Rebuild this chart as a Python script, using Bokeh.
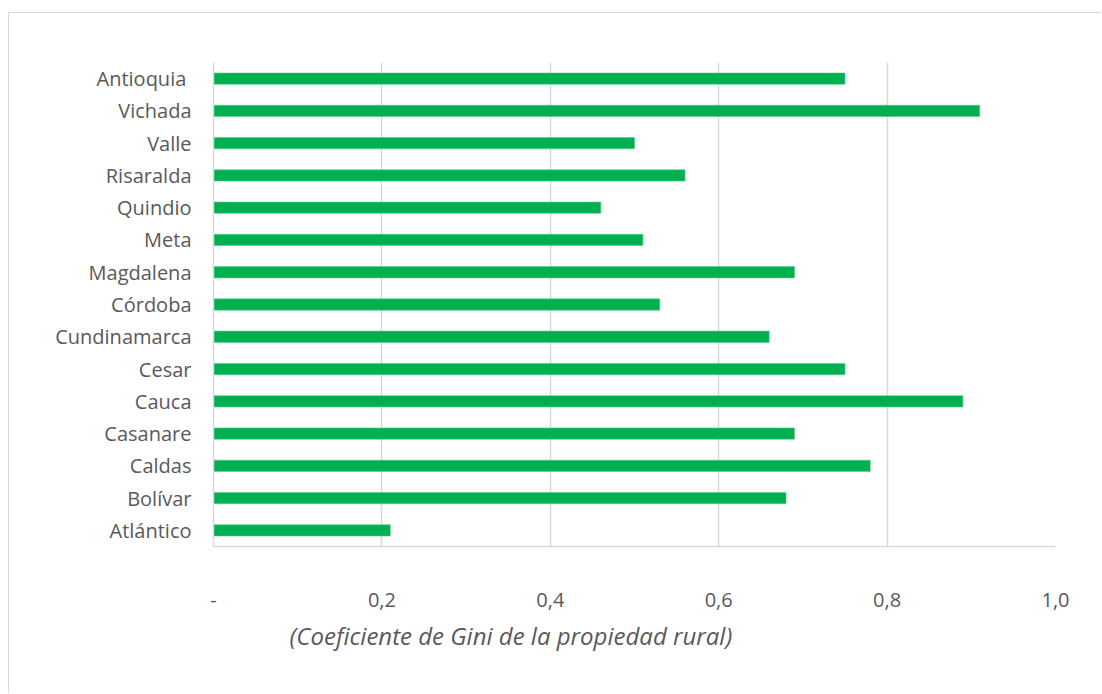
from bokeh.plotting import figure
from bokeh.models import FactorRange, Range1d, FixedTicker, Title
from bokeh.embed import file_html
from bokeh.resources import INLINE

# Data (bottom to top as displayed)
departments = ["Atlántico", "Bolívar", "Caldas", "Casanare", "Cauca", "Cesar",
               "Cundinamarca", "Córdoba", "Magdalena", "Meta", "Quindio",
               "Risaralda", "Valle", "Vichada", "Antioquia "]
gini = [0.21, 0.68, 0.78, 0.69, 0.89, 0.75, 0.66, 0.53, 0.69, 0.51, 0.46,
        0.56, 0.50, 0.91, 0.75]
tick_values = [0, 0.2, 0.4, 0.6, 0.8, 1.0]
tick_labels = ["-", "0,2", "0,4", "0,6", "0,8", "1,0"]
axis_title = "(Coeficiente de Gini de la propiedad rural)"

FONT = "Open Sans"
TXT = "#595959"
GRID = "#d9d9d9"

p = figure(width=1093, height=681, y_range=FactorRange(*departments),
           x_range=Range1d(0, 1.0), output_backend="svg", toolbar_location=None,
           min_border_left=204, min_border_right=47, min_border_top=49,
           min_border_bottom=148)
p.margin = (12, 0, 0, 8)
p.styles = {"border-top": "1px solid #d9d9d9", "border-left": "1px solid #d9d9d9"}
p.outline_line_color = None

p.hbar(y=departments, right=gini, left=0, height=0.35, fill_color="#00B050",
       line_color="#4fd08a", line_width=0.6)

p.xaxis.ticker = FixedTicker(ticks=tick_values)
p.xaxis.major_label_overrides = {v: l for v, l in zip(tick_values, tick_labels)}
p.xaxis.major_label_overrides.update({1: "1,0", 0.0: "-"})
for ax in (p.xaxis, p.yaxis):
    ax.major_tick_line_color = None
    ax.minor_tick_line_color = None
    ax.axis_line_color = GRID
    ax.axis_line_width = 1.5
    ax.major_label_text_font = FONT
    ax.major_label_text_color = TXT
    ax.major_label_text_font_size = "20px"
p.xaxis.major_label_standoff = 40
p.yaxis.major_label_standoff = 16

p.xgrid.grid_line_color = GRID
p.xgrid.grid_line_width = 1.5
p.ygrid.grid_line_color = None

p.add_layout(Title(text=axis_title, align="left", offset=76, standoff=14,
                   text_font=FONT, text_font_style="italic",
                   text_font_size="24px", text_color=TXT), "below")

open("out.html", "w").write(file_html(p, INLINE))
